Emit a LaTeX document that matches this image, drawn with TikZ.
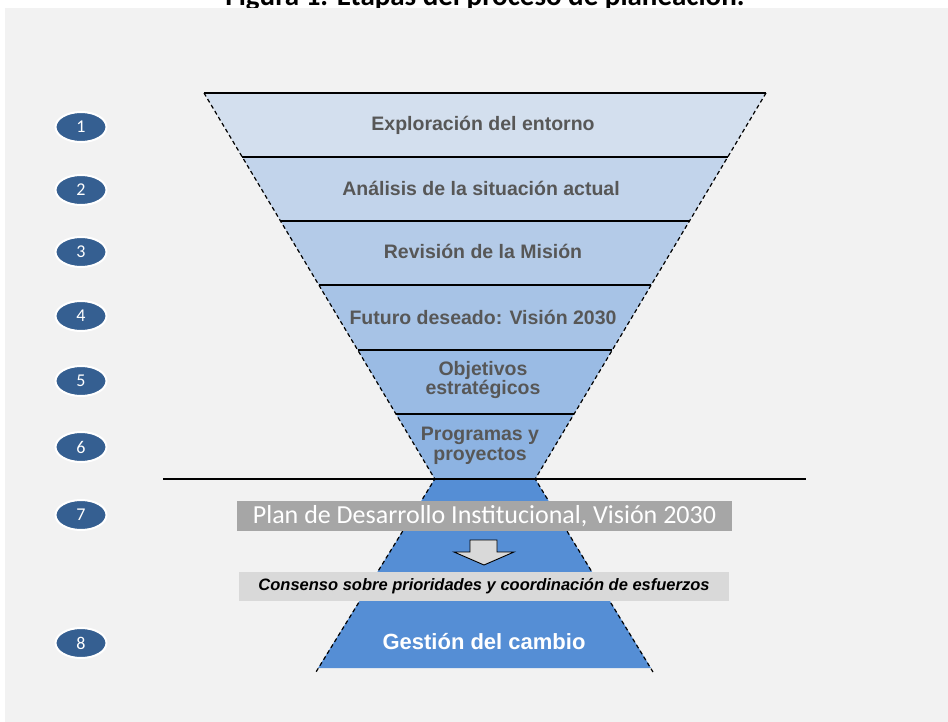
\documentclass[tikz,border=0pt]{standalone}
\usepackage{fontspec}
\setmainfont{Liberation Sans}
\newfontfamily\calib{Carlito}
\usetikzlibrary{shapes.geometric}
\definecolor{bgpanel}{HTML}{F2F2F2}
\definecolor{bandA}{HTML}{D3DFEE}
\definecolor{bandB}{HTML}{C2D4EB}
\definecolor{bandC}{HTML}{B4CBE8}
\definecolor{bandD}{HTML}{A7C3E6}
\definecolor{bandE}{HTML}{9ABBE4}
\definecolor{bandF}{HTML}{8DB3E2}
\definecolor{lowblue}{HTML}{558ED5}
\definecolor{numblue}{HTML}{355F91}
\definecolor{labgray}{HTML}{575757}
\definecolor{planbox}{HTML}{A6A6A6}
\definecolor{consbox}{HTML}{D9D9D9}
\tikzset{
  numell/.style={ellipse, fill=numblue, draw=white, line width=2pt, minimum width=51pt, minimum height=30pt, inner sep=0pt, text=white, font=\calib\fontsize{18}{18}\selectfont},
  bandlabel/.style={text=labgray, font=\bfseries\fontsize{19.5}{19}\selectfont, align=center},
  sepline/.style={black, line width=1.6pt},
  sideline/.style={black, line width=1.2pt, dash pattern=on 4pt off 3pt},
}
\begin{document}
\begin{tikzpicture}[x=1pt,y=-1pt]
\useasboundingbox (0,0) rectangle (948,722);
\clip (0,0) rectangle (948,722);
\fill[white] (0,0) rectangle (948,722);
% title (cut off at top)
\node[anchor=base, inner sep=0pt, font=\calib\bfseries\fontsize{29}{29}\selectfont] (title) at (485,6) {Figura 1. Etapas del proceso de planeación.};
\fill[bgpanel] (5,8) rectangle (948,722);
% funnel coordinates
\coordinate (L0) at (204,93);   \coordinate (R0) at (766,93);
\coordinate (L1) at (242.3,157); \coordinate (R1) at (727.7,157);
\coordinate (L2) at (280.5,221); \coordinate (R2) at (689.5,221);
\coordinate (L3) at (318.8,285); \coordinate (R3) at (651.2,285);
\coordinate (L4) at (357.7,350); \coordinate (R4) at (612.3,350);
\coordinate (L5) at (396,414);   \coordinate (R5) at (574,414);
\coordinate (L6) at (434.8,479); \coordinate (R6) at (535.2,479);
\coordinate (LB) at (318,668);   \coordinate (RB) at (651,668);
\coordinate (LBx) at (316,672);  \coordinate (RBx) at (653,672);
% bands
\fill[bandA] (L0) -- (R0) -- (R1) -- (L1) -- cycle;
\fill[bandB] (L1) -- (R1) -- (R2) -- (L2) -- cycle;
\fill[bandC] (L2) -- (R2) -- (R3) -- (L3) -- cycle;
\fill[bandD] (L3) -- (R3) -- (R4) -- (L4) -- cycle;
\fill[bandE] (L4) -- (R4) -- (R5) -- (L5) -- cycle;
\fill[bandF] (L5) -- (R5) -- (R6) -- (L6) -- cycle;
\fill[lowblue] (L6) -- (R6) -- (RB) -- (LB) -- cycle;
% separators
\draw[black, line width=2pt] (L0) -- (R0);
\foreach \i in {1,...,5} { \draw[sepline] (L\i) -- (R\i); }
\coordinate (HL) at (163,479); \coordinate (HR) at (806,479);
\draw[black, line width=1.5pt] (HL) -- (HR);
% dashed sides
\draw[sideline] (L0) -- (L6) -- (LBx);
\draw[sideline] (R0) -- (R6) -- (RBx);
% band labels
\node[bandlabel] (b1) at (483,125) {Exploración del entorno};
\node[bandlabel] (b2) at (481,188) {Análisis de la situación actual};
\node[bandlabel] (b3) at (483,251) {Revisión de la Misión};
\node[bandlabel] (b4) at (483,317) {Futuro deseado: Visión 2030};
\node[bandlabel] (b5) at (483,380) {Objetivos\\estratégicos};
\node[bandlabel, font=\bfseries\fontsize{19.5}{20}\selectfont] (b6) at (480,446) {Programas y\\proyectos};
% plan box
\node[fill=planbox, text=white, minimum width=495pt, minimum height=30pt, inner sep=0pt, font=\calib\fontsize{26}{26}\selectfont] (plan) at (484.5,516) {Plan de Desarrollo Institucional, Visión 2030};
% arrow
\coordinate (arrtip) at (484,565);
\draw[fill=consbox, draw=black, line width=0.9pt, line join=miter] (470,540) -- (497,540) -- (497,552) -- (514,552) -- (arrtip) -- (454,552) -- (470,552) -- cycle;
% consenso box
\node[fill=consbox, text=black, minimum width=490pt, minimum height=29pt, inner sep=0pt, font=\bfseries\itshape\fontsize{16.5}{16.5}\selectfont] (cons) at (484,586.5) {Consenso sobre prioridades y coordinación de esfuerzos};
% gestion
\node[text=white, font=\bfseries\fontsize{22}{22}\selectfont] (gest) at (484,642) {Gestión del cambio};
% number ellipses
\node[numell] (n1) at (81,127) {1};
\node[numell] (n2) at (81,190) {2};
\node[numell] (n3) at (81,252) {3};
\node[numell] (n4) at (81,316) {4};
\node[numell] (n5) at (81,381) {5};
\node[numell] (n6) at (81,447) {6};
\node[numell] (n7) at (81,515) {7};
\node[numell] (n8) at (81,643) {8};
\end{tikzpicture}
\end{document}
